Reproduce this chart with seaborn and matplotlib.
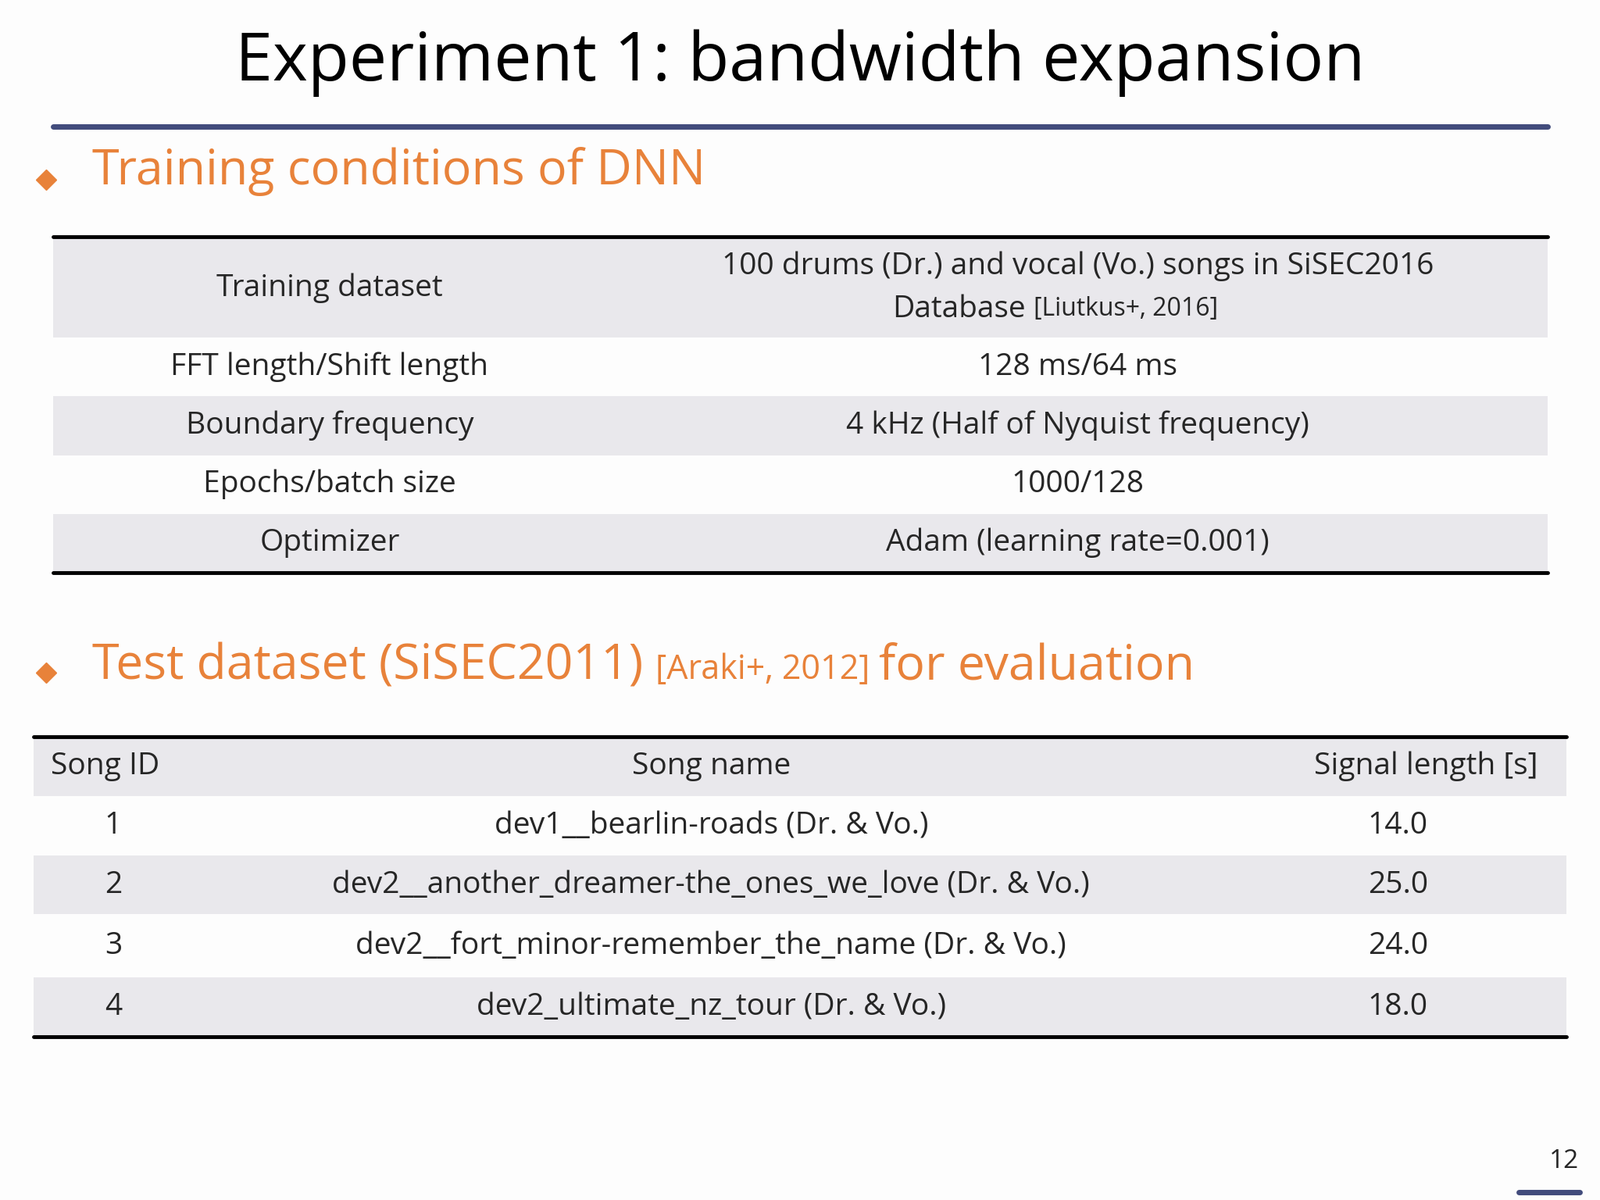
import matplotlib.pyplot as plt
import seaborn as sns
from matplotlib.patches import Rectangle

sns.set_theme(style="white", font="Open Sans")

title = "Experiment 1: bandwidth expansion"
sec1 = "Training conditions of DNN"
sec2_parts = ["Test dataset (SiSEC2011) ", "[Araki+, 2012] ", "for evaluation"]
train_keys = ["FFT length/Shift length", "Boundary frequency", "Epochs/batch size", "Optimizer"]
train_vals = ["128 ms/64 ms", "4 kHz (Half of Nyquist frequency)", "1000/128", "Adam (learning rate=0.001)"]
song_ids = ["1", "2", "3", "4"]
song_names = ["dev1__bearlin-roads (Dr. & Vo.)",
              "dev2__another_dreamer-the_ones_we_love (Dr. & Vo.)",
              "dev2__fort_minor-remember_the_name (Dr. & Vo.)",
              "dev2_ultimate_nz_tour (Dr. & Vo.)"]
song_len = ["14.0", "25.0", "24.0", "18.0"]

orange = "#e8823a"
navy = "#424c7c"
gray = "#e9e8ec"
fs = 28

fig = plt.figure(figsize=(20.48, 15.36), dpi=100, facecolor="#fdfdfd")
ax = fig.add_axes([0, 0, 1, 1])
ax.set_xlim(0, 1568)
ax.set_ylim(1176, 0)
ax.axis("off")

ax.text(784, 62, title, ha="center", va="center", fontsize=62, color="black")
ax.plot([52, 1517], [124, 124], color=navy, lw=5)

ax.plot(45, 176, marker="D", color=orange, ms=13)
ax.text(90, 168, sec1, ha="left", va="center", fontsize=45, color=orange)

# training table
rows1 = [(232, 331)] + [(331 + 57.5 * i, 331 + 57.5 * (i + 1)) for i in range(4)]
for i, (a, b) in enumerate(rows1):
    if i % 2 == 0:
        ax.add_patch(Rectangle((52, a), 1465, b - a, color=gray, lw=0))
ax.plot([52, 1517], [232, 232], color="black", lw=3.5)
ax.plot([52, 1517], [561, 561], color="black", lw=3.5)
ax.text(323, 282, "Training dataset", ha="center", va="center", fontsize=fs)
ax.text(1056, 261, "100 drums (Dr.) and vocal (Vo.) songs in SiSEC2016", ha="center", va="center", fontsize=fs)
ax.text(1005, 303, "Database", ha="right", va="center", fontsize=fs)
ax.text(1013, 303, "[Liutkus+, 2016]", ha="left", va="center", fontsize=23)
for (a, b), k, v in zip(rows1[1:], train_keys, train_vals):
    ax.text(323, (a + b) / 2, k, ha="center", va="center", fontsize=fs)
    ax.text(1056, (a + b) / 2, v, ha="center", va="center", fontsize=fs)

# section 2 heading, pieces placed one after another
ax.plot(45, 659, marker="D", color=orange, ms=13)
fig.canvas.draw()
r = fig.canvas.get_renderer()
x = 90
for part, size in zip(sec2_parts, [45, 31, 45]):
    t = ax.text(x, 653 if size == 45 else 657, part, ha="left", va="center", fontsize=size, color=orange)
    bb = t.get_window_extent(renderer=r)
    x += (bb.x1 - bb.x0) * 1568 / fig.bbox.width

# test table
rows2 = [(722, 780), (780, 838), (838, 896), (896, 958), (958, 1016)]
for i, (a, b) in enumerate(rows2):
    if i % 2 == 0:
        ax.add_patch(Rectangle((33, a), 1502, b - a, color=gray, lw=0))
ax.plot([33, 1535], [722, 722], color="black", lw=3.5)
ax.plot([33, 1535], [1016, 1016], color="black", lw=3.5)
ax.text(50, 751, "Song ID", ha="left", va="center", fontsize=fs)
ax.text(697, 751, "Song name", ha="center", va="center", fontsize=fs)
ax.text(1507, 751, "Signal length [s]", ha="right", va="center", fontsize=fs)
for (a, b), sid, nm, ln in zip(rows2[1:], song_ids, song_names, song_len):
    y = (a + b) / 2
    ax.text(111, y, sid, ha="center", va="center", fontsize=fs)
    ax.text(697, y, nm, ha="center", va="center", fontsize=fs)
    ax.text(1370, y, ln, ha="center", va="center", fontsize=fs)

ax.text(1533, 1138, "12", ha="center", va="center", fontsize=24)
ax.plot([1488, 1548], [1168, 1168], color=navy, lw=5)

fig.savefig("out.png", dpi=100, facecolor=fig.get_facecolor())
